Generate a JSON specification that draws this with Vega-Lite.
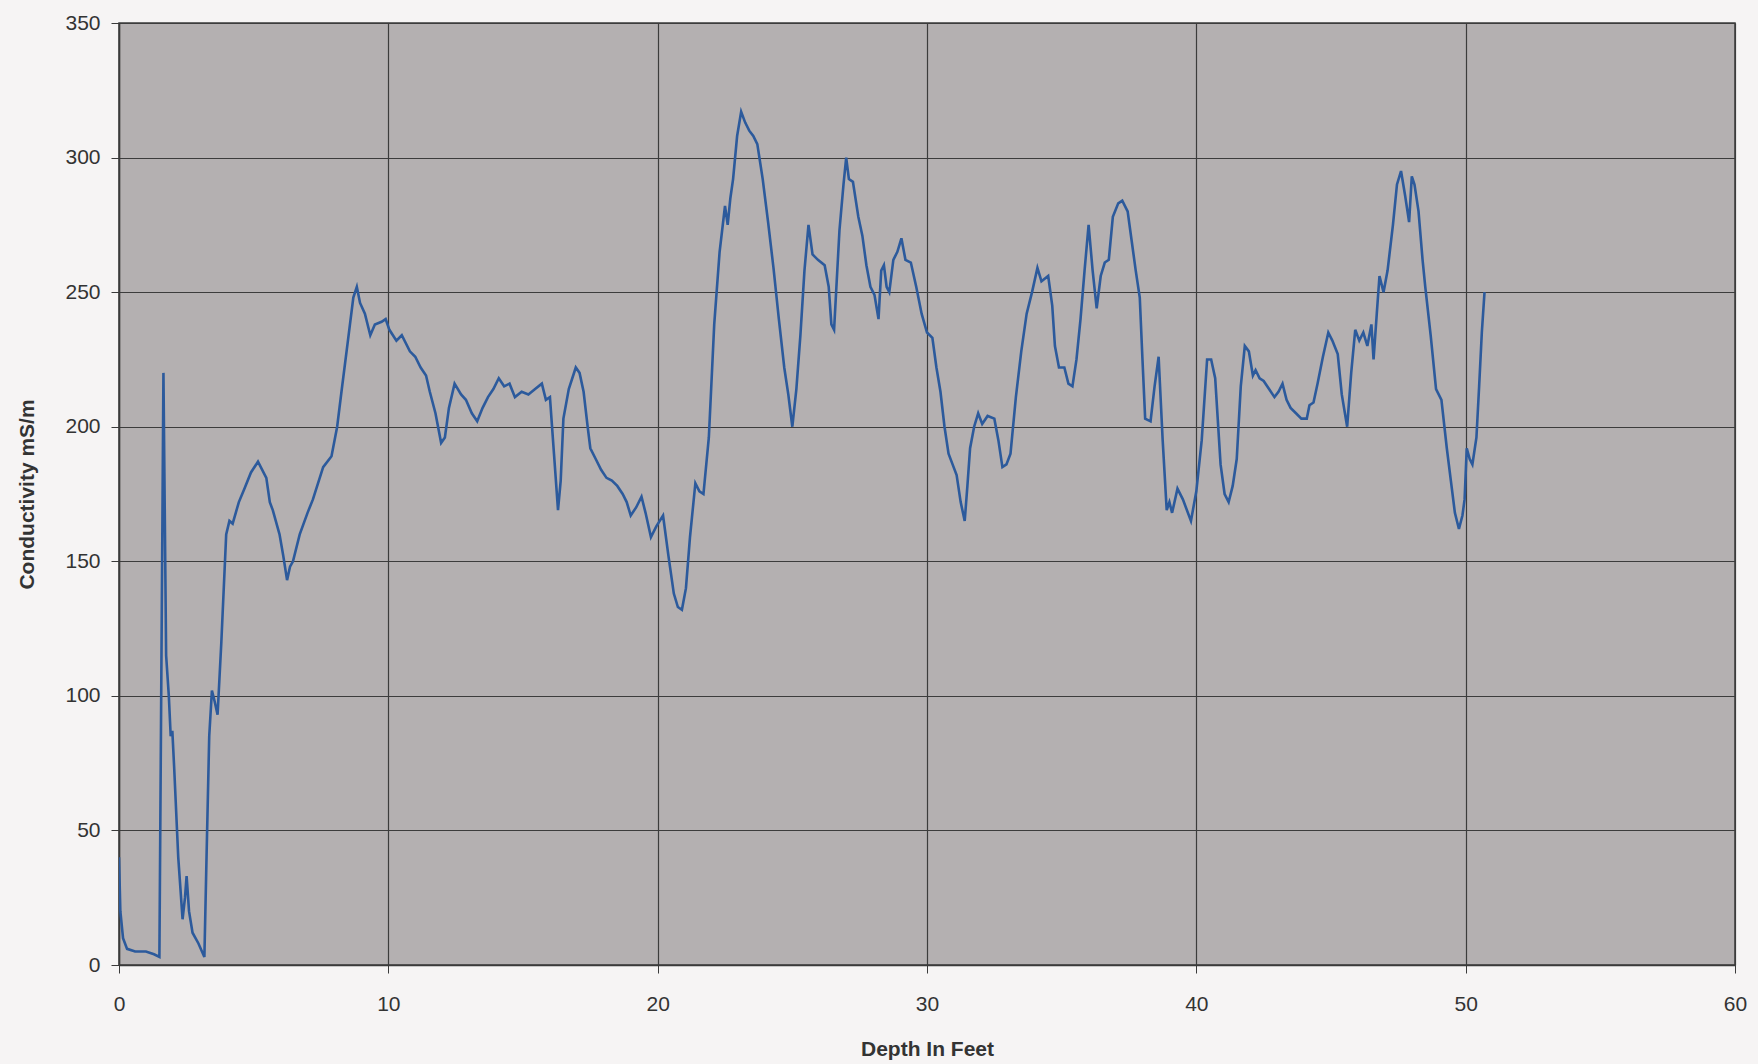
{
  "$schema": "https://vega.github.io/schema/vega-lite/v6.json",
  "width": 1616,
  "height": 942,
  "autosize": {"type": "none"},
  "padding": {"left": 119, "top": 23, "right": 23, "bottom": 99},
  "background": "#f6f4f4",
  "config": {
    "view": {"fill": "#b4b0b1", "stroke": "#3a3a3a", "strokeWidth": 1.5},
    "font": "Liberation Sans"
  },
  "data": {"values": [
    {"d": 0.0, "c": 40}, {"d": 0.05, "c": 20}, {"d": 0.15, "c": 10}, {"d": 0.3, "c": 6}, {"d": 0.6, "c": 5}, {"d": 1.0, "c": 5}, {"d": 1.3, "c": 4}, {"d": 1.5, "c": 3},
    {"d": 1.65, "c": 220}, {"d": 1.75, "c": 115}, {"d": 1.85, "c": 100}, {"d": 1.92, "c": 85}, {"d": 1.98, "c": 87}, {"d": 2.05, "c": 73}, {"d": 2.2, "c": 40}, {"d": 2.36, "c": 17},
    {"d": 2.45, "c": 25}, {"d": 2.51, "c": 33}, {"d": 2.6, "c": 20}, {"d": 2.73, "c": 12}, {"d": 2.95, "c": 8}, {"d": 3.17, "c": 3}, {"d": 3.25, "c": 40}, {"d": 3.35, "c": 85},
    {"d": 3.45, "c": 102}, {"d": 3.55, "c": 98}, {"d": 3.66, "c": 93}, {"d": 3.8, "c": 120}, {"d": 3.98, "c": 160}, {"d": 4.1, "c": 165}, {"d": 4.22, "c": 164}, {"d": 4.45, "c": 172},
    {"d": 4.66, "c": 177}, {"d": 4.9, "c": 183}, {"d": 5.16, "c": 187}, {"d": 5.47, "c": 181}, {"d": 5.6, "c": 172}, {"d": 5.71, "c": 169}, {"d": 5.96, "c": 160}, {"d": 6.1, "c": 152},
    {"d": 6.24, "c": 143}, {"d": 6.35, "c": 148}, {"d": 6.46, "c": 150}, {"d": 6.71, "c": 160}, {"d": 7.0, "c": 168}, {"d": 7.2, "c": 173}, {"d": 7.58, "c": 185}, {"d": 7.89, "c": 189},
    {"d": 8.1, "c": 200}, {"d": 8.26, "c": 213}, {"d": 8.5, "c": 232}, {"d": 8.7, "c": 248}, {"d": 8.83, "c": 252}, {"d": 8.95, "c": 246}, {"d": 9.13, "c": 242}, {"d": 9.33, "c": 234},
    {"d": 9.5, "c": 238}, {"d": 9.75, "c": 239}, {"d": 9.9, "c": 240}, {"d": 10.04, "c": 236}, {"d": 10.3, "c": 232}, {"d": 10.5, "c": 234}, {"d": 10.8, "c": 228}, {"d": 11.0, "c": 226},
    {"d": 11.2, "c": 222}, {"d": 11.4, "c": 219}, {"d": 11.54, "c": 213}, {"d": 11.75, "c": 205}, {"d": 11.96, "c": 194}, {"d": 12.1, "c": 196}, {"d": 12.25, "c": 207}, {"d": 12.46, "c": 216},
    {"d": 12.7, "c": 212}, {"d": 12.88, "c": 210}, {"d": 13.1, "c": 205}, {"d": 13.3, "c": 202}, {"d": 13.5, "c": 207}, {"d": 13.7, "c": 211}, {"d": 13.9, "c": 214}, {"d": 14.1, "c": 218},
    {"d": 14.3, "c": 215}, {"d": 14.5, "c": 216}, {"d": 14.7, "c": 211}, {"d": 14.95, "c": 213}, {"d": 15.2, "c": 212}, {"d": 15.45, "c": 214}, {"d": 15.7, "c": 216}, {"d": 15.85, "c": 210},
    {"d": 16.0, "c": 211}, {"d": 16.15, "c": 190}, {"d": 16.3, "c": 169}, {"d": 16.4, "c": 180}, {"d": 16.5, "c": 203}, {"d": 16.7, "c": 214}, {"d": 16.96, "c": 222}, {"d": 17.1, "c": 220},
    {"d": 17.25, "c": 213}, {"d": 17.4, "c": 200}, {"d": 17.5, "c": 192}, {"d": 17.7, "c": 188}, {"d": 17.9, "c": 184}, {"d": 18.1, "c": 181}, {"d": 18.3, "c": 180}, {"d": 18.5, "c": 178},
    {"d": 18.7, "c": 175}, {"d": 18.85, "c": 172}, {"d": 19.0, "c": 167}, {"d": 19.2, "c": 170}, {"d": 19.4, "c": 174}, {"d": 19.55, "c": 168}, {"d": 19.75, "c": 159}, {"d": 19.95, "c": 163},
    {"d": 20.2, "c": 167}, {"d": 20.4, "c": 152}, {"d": 20.6, "c": 138}, {"d": 20.75, "c": 133}, {"d": 20.9, "c": 132}, {"d": 21.05, "c": 140}, {"d": 21.2, "c": 159}, {"d": 21.4, "c": 179},
    {"d": 21.55, "c": 176}, {"d": 21.7, "c": 175}, {"d": 21.9, "c": 196}, {"d": 22.1, "c": 238}, {"d": 22.3, "c": 265}, {"d": 22.5, "c": 282}, {"d": 22.6, "c": 275}, {"d": 22.7, "c": 285},
    {"d": 22.8, "c": 292}, {"d": 22.95, "c": 308}, {"d": 23.1, "c": 317}, {"d": 23.25, "c": 313}, {"d": 23.4, "c": 310}, {"d": 23.55, "c": 308}, {"d": 23.7, "c": 305}, {"d": 23.9, "c": 292},
    {"d": 24.1, "c": 276}, {"d": 24.3, "c": 259}, {"d": 24.5, "c": 240}, {"d": 24.7, "c": 222}, {"d": 24.85, "c": 212}, {"d": 25.0, "c": 200}, {"d": 25.15, "c": 214}, {"d": 25.3, "c": 234},
    {"d": 25.45, "c": 258}, {"d": 25.6, "c": 275}, {"d": 25.75, "c": 264}, {"d": 25.95, "c": 262}, {"d": 26.2, "c": 260}, {"d": 26.35, "c": 252}, {"d": 26.45, "c": 238}, {"d": 26.55, "c": 236},
    {"d": 26.75, "c": 273}, {"d": 26.9, "c": 290}, {"d": 27.0, "c": 300}, {"d": 27.1, "c": 292}, {"d": 27.25, "c": 291}, {"d": 27.45, "c": 278}, {"d": 27.6, "c": 271}, {"d": 27.75, "c": 260},
    {"d": 27.9, "c": 252}, {"d": 28.05, "c": 249}, {"d": 28.2, "c": 240}, {"d": 28.3, "c": 258}, {"d": 28.4, "c": 260}, {"d": 28.5, "c": 252}, {"d": 28.6, "c": 250}, {"d": 28.75, "c": 262},
    {"d": 28.9, "c": 265}, {"d": 29.05, "c": 270}, {"d": 29.2, "c": 262}, {"d": 29.4, "c": 261}, {"d": 29.6, "c": 252}, {"d": 29.8, "c": 242}, {"d": 30.0, "c": 235}, {"d": 30.2, "c": 233},
    {"d": 30.35, "c": 222}, {"d": 30.5, "c": 213}, {"d": 30.65, "c": 200}, {"d": 30.8, "c": 190}, {"d": 30.95, "c": 186}, {"d": 31.1, "c": 182}, {"d": 31.25, "c": 172}, {"d": 31.4, "c": 165},
    {"d": 31.5, "c": 178}, {"d": 31.6, "c": 192}, {"d": 31.75, "c": 200}, {"d": 31.9, "c": 205}, {"d": 32.05, "c": 201}, {"d": 32.25, "c": 204}, {"d": 32.5, "c": 203}, {"d": 32.65, "c": 195},
    {"d": 32.8, "c": 185}, {"d": 32.95, "c": 186}, {"d": 33.1, "c": 190}, {"d": 33.3, "c": 211}, {"d": 33.5, "c": 228}, {"d": 33.7, "c": 242}, {"d": 33.9, "c": 250}, {"d": 34.1, "c": 259},
    {"d": 34.25, "c": 254}, {"d": 34.5, "c": 256}, {"d": 34.65, "c": 245}, {"d": 34.75, "c": 230}, {"d": 34.9, "c": 222}, {"d": 35.1, "c": 222}, {"d": 35.25, "c": 216}, {"d": 35.4, "c": 215},
    {"d": 35.55, "c": 225}, {"d": 35.7, "c": 240}, {"d": 35.85, "c": 258}, {"d": 36.0, "c": 275}, {"d": 36.15, "c": 258}, {"d": 36.3, "c": 244}, {"d": 36.45, "c": 256}, {"d": 36.6, "c": 261},
    {"d": 36.75, "c": 262}, {"d": 36.9, "c": 278}, {"d": 37.1, "c": 283}, {"d": 37.25, "c": 284}, {"d": 37.45, "c": 280}, {"d": 37.6, "c": 269}, {"d": 37.75, "c": 258}, {"d": 37.9, "c": 248},
    {"d": 38.0, "c": 225}, {"d": 38.1, "c": 203}, {"d": 38.3, "c": 202}, {"d": 38.45, "c": 215}, {"d": 38.6, "c": 226}, {"d": 38.75, "c": 195}, {"d": 38.9, "c": 169}, {"d": 39.0, "c": 172},
    {"d": 39.1, "c": 168}, {"d": 39.3, "c": 177}, {"d": 39.5, "c": 173}, {"d": 39.8, "c": 165}, {"d": 40.0, "c": 176}, {"d": 40.2, "c": 195}, {"d": 40.4, "c": 225}, {"d": 40.55, "c": 225},
    {"d": 40.7, "c": 218}, {"d": 40.9, "c": 186}, {"d": 41.05, "c": 175}, {"d": 41.2, "c": 172}, {"d": 41.35, "c": 178}, {"d": 41.5, "c": 188}, {"d": 41.65, "c": 215}, {"d": 41.8, "c": 230},
    {"d": 41.95, "c": 228}, {"d": 42.1, "c": 219}, {"d": 42.2, "c": 221}, {"d": 42.35, "c": 218}, {"d": 42.5, "c": 217}, {"d": 42.7, "c": 214}, {"d": 42.9, "c": 211}, {"d": 43.05, "c": 213},
    {"d": 43.2, "c": 216}, {"d": 43.35, "c": 210}, {"d": 43.5, "c": 207}, {"d": 43.7, "c": 205}, {"d": 43.9, "c": 203}, {"d": 44.1, "c": 203}, {"d": 44.2, "c": 208}, {"d": 44.35, "c": 209},
    {"d": 44.5, "c": 216}, {"d": 44.7, "c": 226}, {"d": 44.9, "c": 235}, {"d": 45.05, "c": 232}, {"d": 45.25, "c": 227}, {"d": 45.4, "c": 212}, {"d": 45.6, "c": 200}, {"d": 45.75, "c": 220},
    {"d": 45.9, "c": 236}, {"d": 46.05, "c": 232}, {"d": 46.2, "c": 235}, {"d": 46.35, "c": 230}, {"d": 46.5, "c": 238}, {"d": 46.58, "c": 225}, {"d": 46.7, "c": 242}, {"d": 46.8, "c": 256},
    {"d": 46.95, "c": 250}, {"d": 47.1, "c": 258}, {"d": 47.3, "c": 275}, {"d": 47.45, "c": 290}, {"d": 47.6, "c": 295}, {"d": 47.75, "c": 286}, {"d": 47.9, "c": 276}, {"d": 48.0, "c": 293},
    {"d": 48.1, "c": 290}, {"d": 48.25, "c": 280}, {"d": 48.4, "c": 262}, {"d": 48.5, "c": 252}, {"d": 48.7, "c": 234}, {"d": 48.9, "c": 214}, {"d": 49.1, "c": 210}, {"d": 49.3, "c": 192},
    {"d": 49.45, "c": 180}, {"d": 49.6, "c": 168}, {"d": 49.75, "c": 162}, {"d": 49.88, "c": 167}, {"d": 49.96, "c": 173}, {"d": 50.04, "c": 192}, {"d": 50.15, "c": 188}, {"d": 50.25, "c": 186},
    {"d": 50.4, "c": 196}, {"d": 50.5, "c": 215}, {"d": 50.6, "c": 235}, {"d": 50.7, "c": 250}
  ]},
  "mark": {"type": "line", "color": "#2c5a9c", "strokeWidth": 2.6, "clip": true},
  "encoding": {
    "x": {
      "field": "d", "type": "quantitative",
      "scale": {"domain": [0, 60], "nice": false, "zero": false},
      "axis": {
        "title": "Depth In Feet", "values": [0, 10, 20, 30, 40, 50, 60], "labelFlush": false,
        "grid": true, "gridColor": "#3c3c3c", "gridWidth": 1.2, "gridOpacity": 1,
        "domain": true, "domainColor": "#3a3a3a", "domainWidth": 1.5,
        "ticks": true, "tickColor": "#3a3a3a", "tickSize": 8,
        "labelFont": "Liberation Sans", "labelFontSize": 21, "labelColor": "#333333", "labelPadding": 20,
        "titleFont": "Liberation Sans", "titleFontSize": 21, "titleFontWeight": "bold", "titleColor": "#333333", "titlePadding": 24
      }
    },
    "y": {
      "field": "c", "type": "quantitative",
      "scale": {"domain": [0, 350], "nice": false},
      "axis": {
        "title": "Conductivity mS/m", "values": [0, 50, 100, 150, 200, 250, 300, 350], "labelFlush": false,
        "grid": true, "gridColor": "#3c3c3c", "gridWidth": 1.2, "gridOpacity": 1,
        "domain": true, "domainColor": "#3a3a3a", "domainWidth": 1.5,
        "ticks": true, "tickColor": "#3a3a3a", "tickSize": 8,
        "labelFont": "Liberation Sans", "labelFontSize": 21, "labelColor": "#333333", "labelPadding": 11,
        "titleFont": "Liberation Sans", "titleFontSize": 21, "titleFontWeight": "bold", "titleColor": "#333333", "titlePadding": 27
      }
    }
  }
}
